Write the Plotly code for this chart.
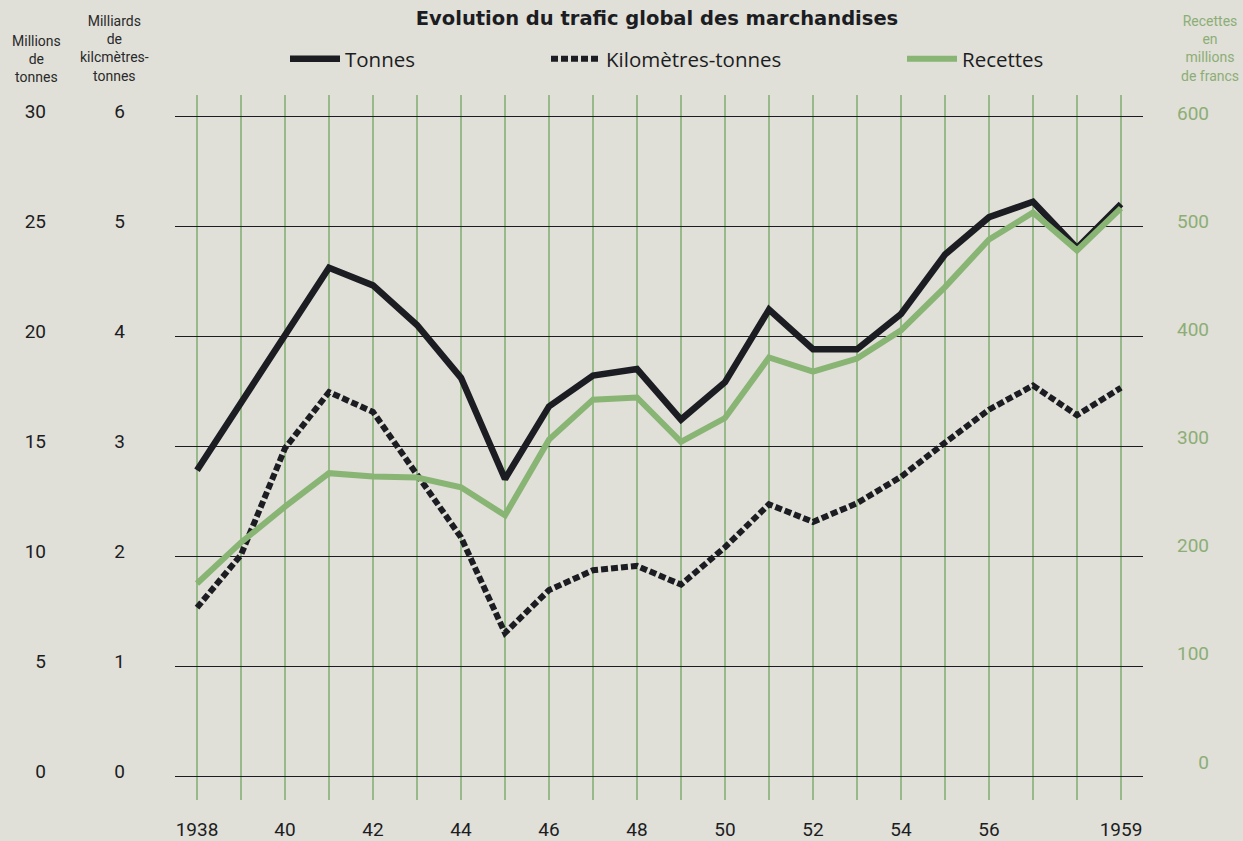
import plotly.graph_objects as go

# ---------------- data ----------------
years = list(range(1938, 1960))
tonnes = [13.9, 17.0, 20.1, 23.1, 22.3, 20.5, 18.1, 13.5, 16.8, 18.2, 18.5,
          16.2, 17.9, 21.2, 19.4, 19.4, 21.0, 23.7, 25.4, 26.1, 24.0, 26.0]
km_tonnes = [1.53, 2.01, 2.98, 3.49, 3.31, 2.74, 2.17, 1.30, 1.69, 1.87, 1.91,
             1.74, 2.08, 2.47, 2.31, 2.48, 2.72, 3.03, 3.33, 3.55, 3.28, 3.53]
recettes = [165, 203, 236, 267, 264, 263, 254, 228, 298, 335, 337,
            296, 318, 374, 361, 373, 399, 439, 483, 508, 473, 512]

x_ticktext = ["1938", "", "40", "", "42", "", "44", "", "46", "", "48", "",
              "50", "", "52", "", "54", "", "56", "", "", "1959"]
tonnes_ticks = [0, 5, 10, 15, 20, 25, 30]
km_ticks = [0, 1, 2, 3, 4, 5, 6]
rec_ticks = [0, 100, 200, 300, 400, 500, 600]
rec_ticktext = ["\u2007\u20070", "100", "200", "300", "400", "500", "600"]

title_text = "Evolution du trafic global des marchandises"
names = ["Tonnes", "Kilomètres-tonnes", "Recettes"]

# ---------------- style ----------------
W, H = 1243, 841
BG = "#e0dfd8"
BLACK = "#1c1d22"
GREEN = "#88b474"
GRID_GREEN = "#98b98a"
LABEL_GREEN = "#8cae76"
NUM_FONT = "Roboto, DejaVu Sans, sans-serif"
LEG_FONT = "Open Sans, Lato, sans-serif"
TITLE_FONT = "DejaVu Sans, Open Sans, sans-serif"

top_px, bot_px = 95, 800
left_px, right_px = 175, 1143

fig = go.Figure()

fig.add_trace(go.Scatter(
    x=years, y=recettes, name=names[2], yaxis="y3", mode="lines",
    line=dict(color=GREEN, width=6), legend="legend3"))
fig.add_trace(go.Scatter(
    x=years, y=km_tonnes, name=names[1], yaxis="y2", mode="lines",
    line=dict(color=BLACK, width=6, dash="7px,3px"), legend="legend2"))
fig.add_trace(go.Scatter(
    x=years, y=tonnes, name=names[0], yaxis="y", mode="lines",
    line=dict(color=BLACK, width=6.5), legend="legend"))

plot_h = bot_px - top_px


def py(px):
    """paper y fraction for a pixel row (relative to plot area)."""
    return (bot_px - px) / plot_h


leg_common = dict(orientation="h", yanchor="middle", xanchor="left",
                  bgcolor="rgba(0,0,0,0)", itemwidth=50,
                  font=dict(family=LEG_FONT, size=20.5, color=BLACK))

fig.update_layout(
    width=W, height=H,
    paper_bgcolor=BG, plot_bgcolor=BG,
    margin=dict(l=0, r=0, t=top_px, b=H - bot_px),
    showlegend=True,
    hovermode=False,
    title=dict(text="<b>" + title_text + "</b>", x=657 / W, xanchor="center",
               y=1 - 18 / H, yanchor="middle",
               font=dict(family=TITLE_FONT, size=19.5, color=BLACK)),
    legend=dict(x=285 / W, y=py(59), **leg_common),
    legend2=dict(x=546 / W, y=py(59), **leg_common),
    legend3=dict(x=902 / W, y=py(59), **leg_common),
    xaxis=dict(
        domain=[left_px / W, right_px / W],
        range=[1937.5, 1959.5],
        tickmode="array", tickvals=years, ticktext=x_ticktext,
        showgrid=True, gridcolor=GRID_GREEN, gridwidth=2,
        zeroline=False, showline=False, ticks="",
        ticklabelstandoff=16,
        tickfont=dict(family=NUM_FONT, size=19, color=BLACK),
    ),
    yaxis=dict(
        range=[(776 - bot_px) / 22, (776 - top_px) / 22],
        tickmode="array", tickvals=tonnes_ticks,
        showgrid=True, gridcolor=BLACK, gridwidth=1.3,
        zeroline=False, showline=False, ticks="",
        anchor="free", position=46 / W, side="left",
        ticklabelshift=-5,
        tickfont=dict(family=NUM_FONT, size=19, color=BLACK),
    ),
    yaxis2=dict(
        range=[(776 - bot_px) / 110, (776 - top_px) / 110],
        tickmode="array", tickvals=km_ticks,
        overlaying="y", anchor="free", position=125 / W, side="left",
        showgrid=False, zeroline=False, showline=False, ticks="",
        ticklabelshift=-5,
        tickfont=dict(family=NUM_FONT, size=19, color=BLACK),
    ),
    yaxis3=dict(
        range=[(762 - bot_px) / 1.0817, (762 - top_px) / 1.0817],
        tickmode="array", tickvals=rec_ticks, ticktext=rec_ticktext,
        overlaying="y", anchor="free", position=1176 / W, side="right",
        showgrid=False, zeroline=False, showline=False, ticks="",
        tickfont=dict(family=NUM_FONT, size=19, color=LABEL_GREEN),
    ),
)

# axis header texts
ann_font = dict(family="Roboto, Liberation Sans Narrow, sans-serif", size=14, color="#2a2a2a")
headers = [
    ("Millions<br>de<br>tonnes", 36, 59, ann_font),
    ("Milliards<br>de<br>kilcmètres-<br>tonnes", 114, 49, ann_font),
    ("Recettes<br>en<br>millions<br>de francs", 1210, 49,
     dict(ann_font, color=LABEL_GREEN)),
]
for txt, xp, yp, f in headers:
    fig.add_annotation(text=txt, xref="paper", yref="paper",
                       x=xp / W, y=py(yp), xanchor="center", yanchor="middle",
                       showarrow=False, align="center", font=f)

fig.write_html("out.html", config={"displayModeBar": False},
               post_script="document.body.style.margin='0px';")
